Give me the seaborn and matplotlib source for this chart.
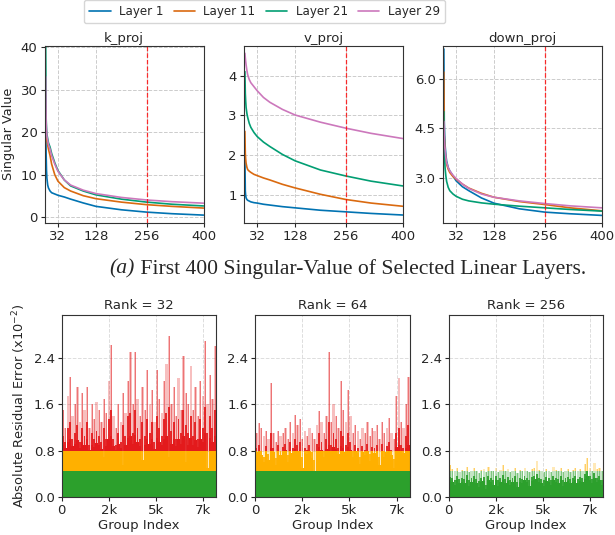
import numpy as np
import pandas as pd
import matplotlib
matplotlib.use("Agg")
import matplotlib.pyplot as plt
import seaborn as sns

# ---- singular values (top row), read at these ranks ----
ranks = [1, 2, 3, 4, 6, 8, 12, 16, 24, 32, 48, 64, 96, 128, 192, 256, 320, 400]
layers = ["Layer 1", "Layer 11", "Layer 21", "Layer 29"]
projs = ["k_proj", "v_proj", "down_proj"]

k_l1 = [22, 15, 11, 9.2, 7.6, 6.9, 6.2, 5.8, 5.5, 5.2, 4.8, 4.3, 3.4, 2.6, 1.8, 1.25, 0.88, 0.55]
k_l11 = [26, 20.5, 19, 18, 17, 16, 14.5, 12.5, 10, 8.5, 7.0, 6.2, 5.1, 4.4, 3.6, 3.0, 2.6, 2.2]
k_l21 = [40, 23.5, 21, 19.5, 18.5, 17.5, 16.5, 15, 12.8, 11, 8.8, 7.4, 6.2, 5.3, 4.3, 3.6, 3.1, 2.7]
k_l29 = [33, 22.5, 20.5, 19, 18, 17, 16, 14.5, 12.5, 10.8, 8.8, 7.6, 6.4, 5.6, 4.7, 4.1, 3.7, 3.35]

v_l1 = [1.9, 1.1, 0.98, 0.93, 0.89, 0.87, 0.85, 0.83, 0.81, 0.8, 0.77, 0.75, 0.71, 0.68, 0.62, 0.58, 0.54, 0.5]
v_l11 = [2.6, 2.05, 1.9, 1.8, 1.7, 1.64, 1.6, 1.57, 1.52, 1.49, 1.43, 1.38, 1.27, 1.18, 1.02, 0.89, 0.8, 0.72]
v_l21 = [4.1, 3.55, 3.35, 3.2, 3.05, 2.95, 2.8, 2.7, 2.57, 2.47, 2.33, 2.22, 2.02, 1.86, 1.63, 1.48, 1.35, 1.23]
v_l29 = [4.56, 4.45, 4.35, 4.27, 4.13, 4.02, 3.9, 3.82, 3.72, 3.62, 3.45, 3.33, 3.15, 3.01, 2.83, 2.68, 2.55, 2.42]

d_l1 = [6.9, 4.7, 4.3, 4.0, 3.7, 3.5, 3.3, 3.2, 3.05, 2.9, 2.72, 2.6, 2.38, 2.22, 2.05, 1.95, 1.9, 1.85]
d_l11 = [6.2, 4.3, 4.0, 3.8, 3.55, 3.4, 3.25, 3.15, 3.03, 2.95, 2.8, 2.68, 2.52, 2.4, 2.27, 2.18, 2.08, 1.99]
d_l21 = [5.0, 3.9, 3.55, 3.3, 3.05, 2.88, 2.7, 2.6, 2.5, 2.43, 2.34, 2.29, 2.23, 2.19, 2.13, 2.08, 2.03, 1.98]
d_l29 = [4.7, 4.15, 3.95, 3.85, 3.6, 3.45, 3.3, 3.2, 3.07, 2.97, 2.8, 2.67, 2.5, 2.4, 2.29, 2.21, 2.14, 2.08]

sv = {
    "k_proj": [k_l1, k_l11, k_l21, k_l29],
    "v_proj": [v_l1, v_l11, v_l21, v_l29],
    "down_proj": [d_l1, d_l11, d_l21, d_l29],
}

# ---- residual error per group (bottom row), bins of 128 groups ----
# peak = highest group in the bin, body = typical level, floor = lowest group
n_groups = 8192
bin_size = 128
rank_titles = ["Rank = 32", "Rank = 64", "Rank = 256"]

peak_r32 = [1.5, 1.2, 1.75, 2.08, 1.4, 1.6, 1.9, 1.3, 1.8, 1.5, 1.9, 1.2, 1.6, 1.35, 1.65, 1.5,
            1.3, 1.7, 1.45, 2.0, 2.63, 1.4, 1.2, 1.6, 1.3, 1.8, 1.45, 2.0, 2.5, 1.6, 2.5, 1.7,
            1.4, 1.9, 1.5, 2.2, 1.6, 1.85, 1.3, 2.2, 1.7, 1.45, 2.0, 2.3, 2.77, 1.6, 1.9, 1.4,
            2.05, 1.5, 2.43, 1.8, 1.6, 2.26, 1.5, 1.9, 1.4, 2.0, 1.75, 2.69, 1.6, 2.1, 1.7, 2.6]
body_r32 = [1.05, 0.95, 1.2, 1.3, 1.0, 1.1, 1.25, 0.95, 1.2, 1.05, 1.3, 0.9, 1.1, 1.0, 1.15, 1.05,
            0.95, 1.2, 1.0, 1.35, 1.5, 1.0, 0.9, 1.1, 0.95, 1.25, 1.05, 1.4, 1.45, 1.1, 1.5, 1.2,
            1.0, 1.3, 1.05, 1.35, 1.1, 1.3, 0.95, 1.4, 1.2, 1.05, 1.35, 1.45, 1.55, 1.15, 1.3, 1.0,
            1.35, 1.1, 1.5, 1.25, 1.1, 1.4, 1.05, 1.3, 1.0, 1.35, 1.2, 1.55, 1.1, 1.4, 1.2, 1.5]
floor_r32 = [0.9, 0.85, 0.95, 1.0, 0.88, 0.92, 0.98, 0.85, 0.95, 0.9, 1.0, 0.82, 0.9, 0.86, 0.94, 0.9,
             0.84, 0.7, 0.88, 1.0, 1.05, 0.88, 0.82, 0.92, 0.85, 0.55, 0.9, 1.02, 1.05, 0.92, 1.08, 0.95,
             0.88, 0.65, 0.9, 1.0, 0.92, 1.0, 0.84, 1.02, 0.95, 0.9, 1.0, 1.05, 0.7, 0.92, 1.0, 0.88,
             1.0, 0.92, 1.05, 0.6, 0.9, 1.02, 0.9, 0.98, 0.86, 1.0, 0.95, 1.1, 0.5, 1.02, 0.95, 1.05]

peak_r64 = [1.1, 1.28, 1.2, 1.05, 1.15, 1.0, 1.97, 1.1, 0.95, 1.15, 1.05, 1.1, 1.2, 1.0, 1.3, 1.1,
            1.42, 1.25, 1.35, 1.0, 1.15, 1.05, 1.2, 1.1, 1.0, 1.25, 1.48, 1.3, 1.1, 1.4, 2.5, 1.3,
            1.6, 1.4, 1.2, 2.0, 1.5, 1.3, 1.85, 1.4, 1.1, 1.25, 1.15, 1.0, 1.2, 1.1, 1.3, 1.05,
            1.2, 1.15, 1.25, 1.0, 1.3, 1.1, 1.2, 1.36, 1.1, 1.0, 1.75, 2.05, 1.3, 1.2, 1.6, 2.08]
body_r64 = [0.85, 0.9, 0.8, 0.7, 0.88, 0.75, 1.1, 0.85, 0.68, 0.9, 0.8, 0.87, 0.92, 0.72, 0.95, 0.85,
            1.0, 0.9, 0.95, 0.7, 0.85, 0.82, 0.9, 0.78, 0.65, 0.92, 1.1, 0.95, 0.8, 1.0, 1.3, 0.9,
            1.1, 1.0, 0.85, 1.15, 1.05, 0.9, 1.1, 0.95, 0.8, 0.9, 0.85, 0.7, 0.88, 0.82, 0.92, 0.75,
            0.87, 0.85, 0.9, 0.7, 0.92, 0.8, 0.88, 0.95, 0.82, 0.66, 1.1, 1.2, 0.9, 0.85, 1.05, 1.25]
floor_r64 = [0.78, 0.8, 0.72, 0.6, 0.8, 0.65, 0.85, 0.78, 0.55, 0.8, 0.72, 0.78, 0.82, 0.6, 0.82, 0.76,
             0.84, 0.8, 0.82, 0.5, 0.76, 0.74, 0.8, 0.68, 0.45, 0.8, 0.86, 0.82, 0.7, 0.84, 0.9, 0.8,
             0.86, 0.84, 0.74, 0.88, 0.85, 0.78, 0.86, 0.82, 0.7, 0.8, 0.76, 0.58, 0.78, 0.72, 0.8, 0.62,
             0.78, 0.76, 0.8, 0.55, 0.8, 0.7, 0.78, 0.82, 0.72, 0.5, 0.86, 0.9, 0.8, 0.76, 0.85, 0.9]

peak_r256 = [0.55, 0.48, 0.46, 0.5, 0.44, 0.47, 0.45, 0.52, 0.43, 0.46, 0.5, 0.45, 0.42, 0.47, 0.48, 0.44,
             0.52, 0.46, 0.45, 0.5, 0.43, 0.47, 0.55, 0.45, 0.48, 0.44, 0.46, 0.5, 0.42, 0.47, 0.45, 0.51,
             0.46, 0.44, 0.48, 0.5, 0.62, 0.47, 0.45, 0.43, 0.49, 0.46, 0.44, 0.52, 0.47, 0.45, 0.5, 0.43,
             0.46, 0.48, 0.44, 0.47, 0.5, 0.45, 0.48, 0.46, 0.57, 0.67, 0.5, 0.46, 0.59, 0.48, 0.5, 0.45]
body_r256 = [0.35, 0.33, 0.3, 0.36, 0.32, 0.34, 0.31, 0.38, 0.3, 0.33, 0.36, 0.32, 0.28, 0.34, 0.35, 0.22,
             0.37, 0.33, 0.3, 0.36, 0.29, 0.33, 0.38, 0.31, 0.35, 0.3, 0.33, 0.36, 0.27, 0.33, 0.31, 0.37,
             0.33, 0.3, 0.35, 0.36, 0.4, 0.34, 0.31, 0.29, 0.35, 0.33, 0.3, 0.37, 0.34, 0.32, 0.36, 0.29,
             0.33, 0.35, 0.31, 0.34, 0.36, 0.32, 0.35, 0.33, 0.4, 0.45, 0.36, 0.32, 0.42, 0.34, 0.36, 0.3]
floor_r256 = [0.28, 0.26, 0.22, 0.29, 0.25, 0.27, 0.24, 0.3, 0.2, 0.26, 0.29, 0.25, 0.18, 0.27, 0.28, 0.15,
              0.3, 0.26, 0.22, 0.29, 0.2, 0.26, 0.3, 0.24, 0.28, 0.22, 0.26, 0.29, 0.17, 0.26, 0.24, 0.3,
              0.26, 0.2, 0.28, 0.29, 0.32, 0.27, 0.24, 0.2, 0.28, 0.26, 0.22, 0.3, 0.27, 0.25, 0.29, 0.19,
              0.26, 0.28, 0.24, 0.27, 0.29, 0.25, 0.28, 0.26, 0.32, 0.36, 0.29, 0.24, 0.33, 0.27, 0.29, 0.22]

err_peaks = [peak_r32, peak_r64, peak_r256]
err_bodies = [body_r32, body_r64, body_r256]
err_floors = [floor_r32, floor_r64, floor_r256]

T_GREEN = 0.46
T_ORANGE = 0.8
GREEN, ORANGE, RED = "#2ca02c", "#ffb000", "#e31a1c"
pal = ["#0173b2", "#da6a10", "#029e73", "#cc78bc"]

sns.set_style("ticks")
plt.rcParams["font.family"] = ["DejaVu Sans"]
plt.rcParams["axes.edgecolor"] = "#333333"

fig = plt.figure(figsize=(6.15, 5.35), dpi=100)

# top row
top_pos = [0.0724, 0.3963, 0.7198]
ylims = {"k_proj": (-1.3, 40.3), "v_proj": (0.30, 4.75), "down_proj": (1.62, 7.0)}
yticks = {"k_proj": [0, 10, 20, 30, 40], "v_proj": [1, 2, 3, 4], "down_proj": [3.0, 4.5, 6.0]}

rows = []
for p in projs:
    for lay, vals in zip(layers, sv[p]):
        for r, v in zip(ranks, vals):
            rows.append({"proj": p, "layer": lay, "rank": r, "value": v})
df = pd.DataFrame(rows)

for i, p in enumerate(projs):
    ax = fig.add_axes([top_pos[i], 0.5832, 0.2585, 0.3314])
    sns.lineplot(data=df[df.proj == p], x="rank", y="value", hue="layer",
                 hue_order=layers, palette=pal, linewidth=1.2, ax=ax, legend=(i == 0))
    ax.axvline(256, color="red", linestyle="--", linewidth=0.9, alpha=0.8)
    ax.set_xlim(-2, 400)
    ax.set_ylim(*ylims[p])
    ax.set_xticks([32, 128, 256, 400])
    ax.set_yticks(yticks[p])
    if p == "down_proj":
        ax.set_yticklabels(["3.0", "4.5", "6.0"])
    ax.grid(True, linestyle="--", color="#cccccc", linewidth=0.7)
    ax.set_title(p, fontsize=9.5, pad=3)
    ax.set_xlabel("")
    ax.set_ylabel("Singular Value" if i == 0 else "", fontsize=9.2)
    ax.tick_params(labelsize=9.5, length=3, pad=2)
    for s in ax.spines.values():
        s.set_visible(True)
    if i == 0:
        handles, labels = ax.get_legend_handles_labels()
        ax.get_legend().remove()

fig.legend(handles, labels, loc="upper center", bbox_to_anchor=(0.43, 1.012), ncol=4,
           fontsize=8.6, frameon=True, handlelength=1.8, columnspacing=0.85, borderpad=0.45,
           handletextpad=0.7)

# caption
renderer = fig.canvas.get_renderer()
t1 = fig.text(0, 0.497, "(a)", fontsize=15.6, family="Liberation Serif", style="italic", va="center")
t2 = fig.text(0, 0.497, " First 400 Singular-Value of Selected Linear Layers.", fontsize=15.6,
              family="Liberation Serif", va="center")
w1 = t1.get_window_extent(renderer).width
w2 = t2.get_window_extent(renderer).width
cx = 0.565 * 615
x0 = cx - (w1 + w2) / 2
t1.set_x(x0 / 615)
t2.set_x((x0 + w1) / 615)

# bottom row
bot_pos = [0.1003, 0.4151, 0.7296]
centers = np.arange(len(peak_r32)) * bin_size + bin_size / 2


def seg_bars(ax, x, vals, width, alpha):
    v = np.asarray(vals, dtype=float)
    g = np.minimum(v, T_GREEN)
    o = np.clip(v - T_GREEN, 0, T_ORANGE - T_GREEN)
    r = np.clip(v - T_ORANGE, 0, None)
    ax.bar(x, g, width, color=GREEN, alpha=alpha, linewidth=0)
    ax.bar(x, o, width, bottom=T_GREEN, color=ORANGE, alpha=alpha, linewidth=0)
    ax.bar(x, r, width, bottom=T_ORANGE, color=RED, alpha=alpha, linewidth=0)


for i in range(3):
    ax = fig.add_axes([bot_pos[i], 0.0705, 0.2509, 0.3407])
    ax.set_axisbelow(True)
    ax.grid(True, linestyle="--", color="#dddddd", linewidth=0.7)
    seg_bars(ax, centers, err_peaks[i], bin_size * 0.95, 0.28)
    seg_bars(ax, centers + bin_size * 0.15, err_peaks[i], bin_size * 0.3, 0.45)
    seg_bars(ax, centers - bin_size * 0.05, err_bodies[i], bin_size * 0.8, 0.9)
    seg_bars(ax, centers, err_floors[i], bin_size, 1.0)
    ax.set_xlim(0, n_groups)
    ax.set_ylim(0, 3.14)
    ax.set_xticks([0, 2500, 5000, 7500])
    ax.set_xticklabels(["0", "2k", "5k", "7k"])
    ax.set_yticks([0, 0.8, 1.6, 2.4])
    ax.set_yticklabels(["0.0", "0.8", "1.6", "2.4"])
    ax.set_title(rank_titles[i], fontsize=9.5, pad=4)
    ax.set_xlabel("Group Index", fontsize=9.5, labelpad=1)
    if i == 0:
        ax.set_ylabel("Absolute Residual Error (x10$^{-2}$)", fontsize=9.3)
    ax.tick_params(labelsize=9.5, length=3, pad=2)
    for s in ax.spines.values():
        s.set_visible(True)

fig.savefig("out.png", dpi=100)
